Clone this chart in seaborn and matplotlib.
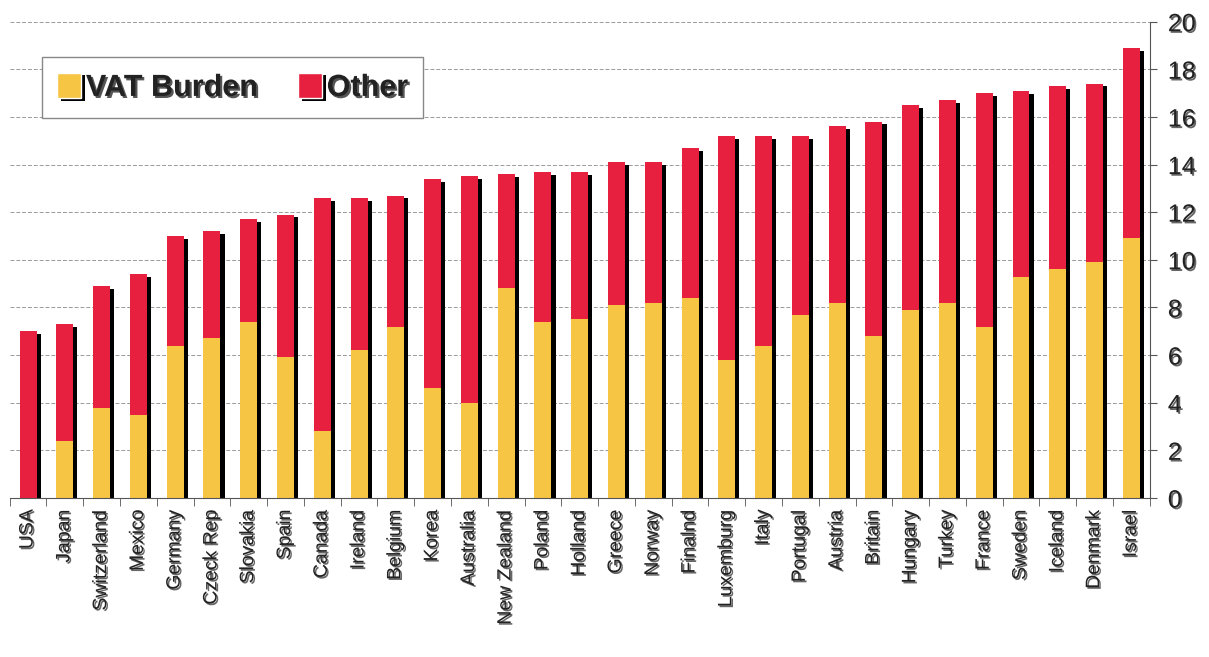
import matplotlib
matplotlib.use("Agg")
import matplotlib.pyplot as plt
import matplotlib.patheffects as pe
from matplotlib.patches import Patch
import seaborn as sns
import pandas as pd

countries = ["USA", "Japan", "Switzerland", "Mexico", "Germany", "Czeck Rep", "Slovakia",
             "Spain", "Canada", "Ireland", "Belgium", "Korea", "Australia", "New Zealand",
             "Poland", "Holland", "Greece", "Norway", "Finalnd", "Luxemburg", "Italy",
             "Portugal", "Austria", "Britain", "Hungary", "Turkey", "France", "Sweden",
             "Iceland", "Denmark", "Israel"]
total = [7.0, 7.3, 8.9, 9.4, 11.0, 11.2, 11.7, 11.9, 12.6, 12.6, 12.7, 13.4, 13.5, 13.6,
         13.7, 13.7, 14.1, 14.1, 14.7, 15.2, 15.2, 15.2, 15.6, 15.8, 16.5, 16.7, 17.0,
         17.1, 17.3, 17.4, 18.9]
vat = [0.0, 2.4, 3.8, 3.5, 6.4, 6.7, 7.4, 5.9, 2.8, 6.2, 7.2, 4.6, 4.0, 8.8,
       7.4, 7.5, 8.1, 8.2, 8.4, 5.8, 6.4, 7.7, 8.2, 6.8, 7.9, 8.2, 7.2,
       9.3, 9.6, 9.9, 10.9]

df = pd.DataFrame({"country": countries, "total": total, "vat": vat})

red = "#E8203F"
yellow = "#F7C544"

sns.set_style("white")
plt.rcParams["font.family"] = ["Liberation Sans", "DejaVu Sans"]

fig = plt.figure(figsize=(12.09, 6.57), dpi=100)
ax = fig.add_axes([0.008, 0.242, 0.943, 0.725])

shadow = [pe.SimplePatchShadow(offset=(3, -2), shadow_rgbFace="black", alpha=1), pe.Normal()]

# total bar (red) with the yellow VAT part drawn on top
sns.barplot(data=df, x="country", y="total", color=red, width=0.46,
            saturation=1, edgecolor="none", ax=ax)
sns.barplot(data=df, x="country", y="vat", color=yellow, width=0.46,
            saturation=1, edgecolor="none", ax=ax)
for p in ax.patches:
    p.set_path_effects(shadow)

n = len(countries)
ax.set_xlim(-0.5, n - 0.5)
ax.set_ylim(0, 20)
ax.set_xlabel("")
ax.set_ylabel("")

ax.yaxis.tick_right()
ax.set_yticks(range(0, 21, 2))
ax.grid(axis="y", color="#9a9a9a", linewidth=0.7, linestyle=(0, (4, 2)))
ax.set_axisbelow(True)

for s in ["top", "left"]:
    ax.spines[s].set_visible(False)
ax.spines["right"].set_color("#555555")
ax.spines["bottom"].set_color("#555555")

txt_fx = [pe.withSimplePatchShadow(offset=(1.2, -1.2), shadow_rgbFace="#666666", alpha=1)]
ax.tick_params(axis="y", right=True, length=5, color="#555555", labelsize=18, pad=8)
ax.set_xticks(range(n))
ax.set_xticklabels(countries, rotation=90, fontsize=14)
ax.tick_params(axis="x", length=0, pad=8)
ax.set_xticks([i - 0.5 for i in range(n + 1)], minor=True)
ax.tick_params(axis="x", which="minor", bottom=True, length=6, color="#555555")
for lab in ax.get_xticklabels() + ax.get_yticklabels():
    lab.set_path_effects(txt_fx)
    lab.set_color("#222222")

handles = [Patch(facecolor=yellow, label="VAT Burden", path_effects=shadow),
           Patch(facecolor=red, label="Other", path_effects=shadow)]
leg = ax.legend(handles=handles, loc="upper left", bbox_to_anchor=(0.028, 0.925), ncol=2,
                frameon=True, fancybox=False, edgecolor="#888888", framealpha=1,
                borderaxespad=0, handlelength=0.8, handleheight=0.9, handletextpad=0.15,
                columnspacing=1.3, borderpad=0.5, prop={"weight": "bold", "size": 22})
for t in leg.get_texts():
    t.set_path_effects([pe.withSimplePatchShadow(offset=(1.5, -1.5), shadow_rgbFace="#555555", alpha=1)])
    t.set_color("#222222")

fig.savefig("out.png", dpi=100)
